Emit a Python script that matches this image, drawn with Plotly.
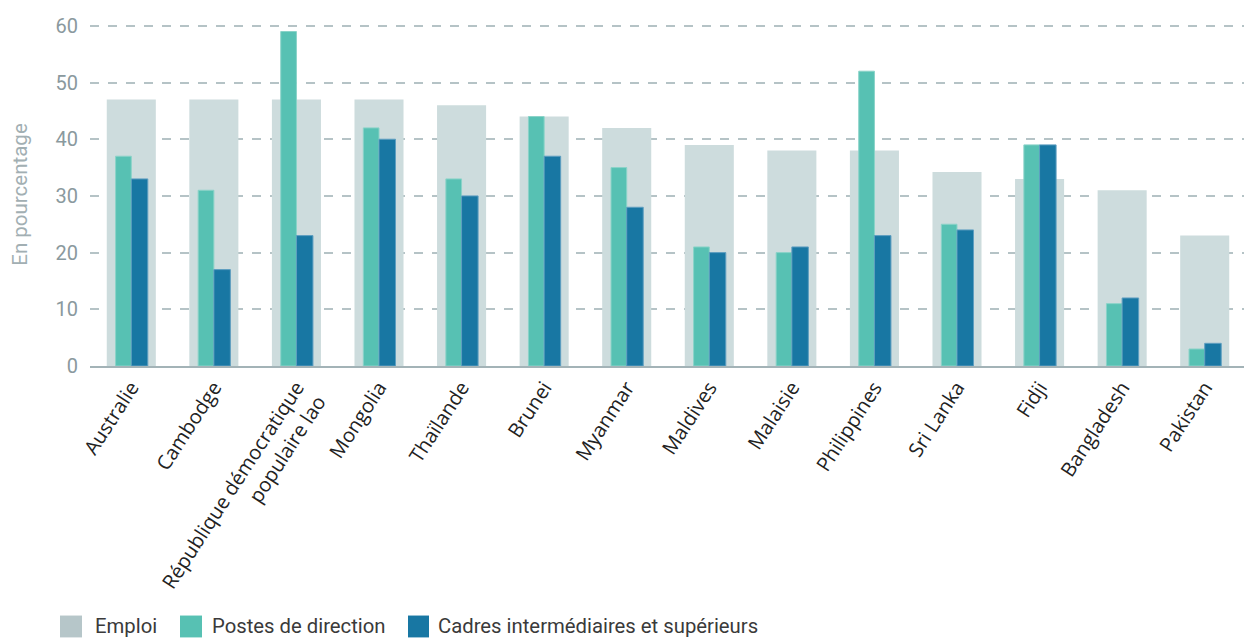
import plotly.graph_objects as go

categories = ["Australie", "Cambodge", "République démocratique<br>populaire lao", "Mongolia",
              "Thaïlande", "Brunei", "Myanmar", "Maldives", "Malaisie", "Philippines",
              "Sri Lanka", "Fidji", "Bangladesh", "Pakistan"]
emploi = [47, 47, 47, 47, 46, 44, 42, 39, 38, 38, 34.2, 33, 31, 23]
postes = [37, 31, 59, 42, 33, 44, 35, 21, 20, 52, 25, 39, 11, 3]
cadres = [33, 17, 23, 40, 30, 37, 28, 20, 21, 23, 24, 39, 12, 4]
series_names = ["Emploi", "Postes de direction", "Cadres intermédiaires et supérieurs"]
tick_vals = [0, 10, 20, 30, 40, 50, 60]

C_EMP = "#CDDCDD"
C_EMP_LEG = "#B6C6C9"
C_POS = "#57C1B3"
C_CAD = "#1877A3"

fig = go.Figure()
fig.add_trace(go.Bar(x=categories, y=emploi, name=series_names[0], width=0.594, offset=-0.297,
                     marker=dict(color=C_EMP, line=dict(width=0)), showlegend=False))
fig.add_trace(go.Bar(x=categories, y=postes, name=series_names[1], width=0.19, offset=-0.19,
                     marker=dict(color=C_POS, line=dict(width=1, color="#8AD3C8")), showlegend=False))
fig.add_trace(go.Bar(x=categories, y=cadres, name=series_names[2], width=0.2, offset=0,
                     marker=dict(color=C_CAD, line=dict(width=1, color="#5E9EC0")), showlegend=False))

# figure is placed 8px from the page's top-left corner
FW, FH = 1244, 634
L, R, T, B = 82, 6, 13, 276
W, H = FW - L - R, FH - T - B
def px(x):
    return (x - L) / W
def py(y):
    return (FH - B - y) / H

leg = [(52, 74, 85, series_names[0], C_EMP_LEG),
       (172, 194, 202, series_names[1], C_POS),
       (400, 421, 428, series_names[2], C_CAD)]
shapes = []
annotations = []
for x0, x1, tx, name, col in leg:
    shapes.append(dict(type="rect", xref="paper", yref="paper", x0=px(x0), x1=px(x1),
                       y0=py(631), y1=py(609), fillcolor=col, line=dict(width=0)))
    annotations.append(dict(text=name, xref="paper", yref="paper", x=px(tx), y=py(620),
                            xanchor="left", yanchor="middle", showarrow=False,
                            font=dict(size=20.3, color="#3A3A3A", family="Roboto, sans-serif")))

fig.update_layout(
    width=FW, height=FH,
    margin=dict(l=L, r=R, t=T, b=B),
    barmode="overlay",
    plot_bgcolor="white", paper_bgcolor="white",
    shapes=shapes, annotations=annotations,
    font=dict(family="Open Sans, Noto Sans, sans-serif"),
)
fig.update_xaxes(tickangle=-57, tickfont=dict(size=20, color="#222222"),
                 showline=True, linecolor="#A3B3B7", linewidth=2, ticks="",
                 showgrid=False, range=[-0.5, 13.5])
fig.update_yaxes(range=[0, 60.5], tickvals=tick_vals, showgrid=True, gridcolor="#B5C3C6",
                 griddash="dash", gridwidth=1.5, zeroline=False,
                 tickfont=dict(size=20, color="#8A999E", family="Roboto, sans-serif"),
                 title=dict(text="En pourcentage", font=dict(size=20.5, color="#A2AFB3",
                                                              family="Roboto, sans-serif"), standoff=22),
                 ticklabelstandoff=11)

fig.write_html("out.html")
